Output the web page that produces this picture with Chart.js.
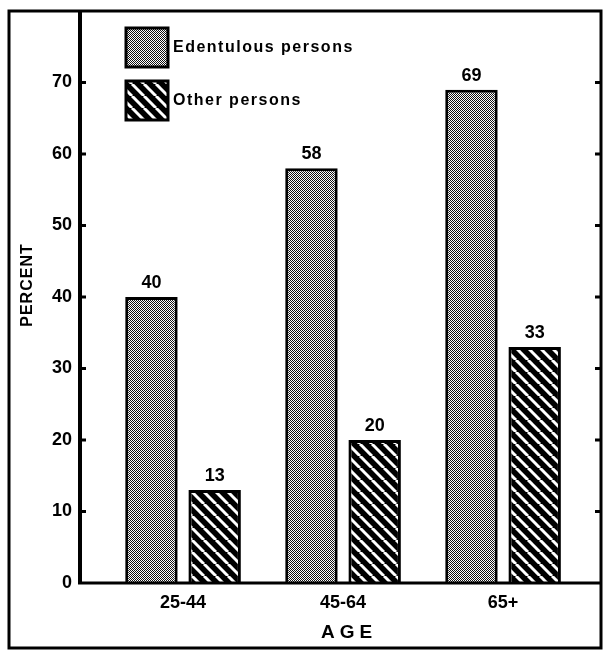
<!DOCTYPE html>
<html>
<head>
<meta charset="utf-8">
<script src="https://cdn.jsdelivr.net/npm/chart.js@4"></script>
<style>
html, body { margin: 0; padding: 0; background: #fff; }
canvas { display: block; }
</style>
</head>
<body>
<canvas id="myChart" width="604" height="655"></canvas>
<script>
// Chart data
const ageGroups = ["25-44", "45-64", "65+"];
const edentulous = [40, 58, 69];
const others = [13, 20, 33];
const seriesNames = ["Edentulous persons", "Other persons"];
const yTicks = [0, 10, 20, 30, 40, 50, 60, 70];
const yMax = 80;
const xTitle = "AGE";
const yTitle = "PERCENT";

const FONT = '"Liberation Sans", Arial, sans-serif';

// -----===== fill patterns =====-----
const makeStipple = () => {
  const c = document.createElement("canvas");
  c.width = 2; c.height = 2;
  const g = c.getContext("2d");
  g.fillStyle = "#fff";
  g.fillRect(0, 0, 2, 2);
  g.fillStyle = "#111";
  g.fillRect(0, 0, 1, 1);
  g.fillRect(1, 1, 1, 1);
  return g.createPattern(c, "repeat");
};
const makeHatch = () => {
  const c = document.createElement("canvas");
  c.width = 12; c.height = 12;
  const g = c.getContext("2d");
  g.fillStyle = "#000";
  g.fillRect(0, 0, 12, 12);
  g.strokeStyle = "#fff";
  g.lineWidth = 3;
  [-12, 0, 12].forEach((off) => {
    g.beginPath();
    g.moveTo(off, 0);
    g.lineTo(off + 12, 12);
    g.stroke();
  });
  return g.createPattern(c, "repeat");
};
const fills = [makeStipple(), makeHatch()];

// -----===== value labels over bars =====-----
const valueLabels = {
  id: "valueLabels",
  afterDatasetsDraw(chart) {
    const ctx = chart.ctx;
    ctx.save();
    ctx.fillStyle = "#000";
    ctx.font = "bold 18px " + FONT;
    ctx.textAlign = "center";
    ctx.textBaseline = "bottom";
    chart.data.datasets.forEach((ds, i) => {
      chart.getDatasetMeta(i).data.forEach((bar, j) => {
        ctx.fillText(String(ds.data[j].y), bar.x, bar.y - 5);
      });
    });
    ctx.restore();
  }
};

// -----===== frame, axes, inward ticks, titles, legend =====-----
const frame = {
  id: "frame",
  afterDraw(chart) {
    const { ctx, chartArea: a } = chart;
    const y = chart.scales.y;
    ctx.save();
    ctx.strokeStyle = "#000";
    ctx.lineWidth = 3;
    ctx.strokeRect(9, a.top, a.right - 9, 648 - a.top);
    ctx.lineWidth = 4;
    ctx.beginPath();
    ctx.moveTo(a.left, a.top);
    ctx.lineTo(a.left, a.bottom + 1);
    ctx.stroke();
    ctx.lineWidth = 3;
    ctx.beginPath();
    ctx.moveTo(a.left - 2, a.bottom);
    ctx.lineTo(a.right, a.bottom);
    ctx.stroke();
    yTicks.forEach((v) => {
      if (v === 0) return;
      const py = y.getPixelForValue(v);
      ctx.beginPath();
      ctx.moveTo(a.left, py);
      ctx.lineTo(a.left + 6, py);
      ctx.moveTo(a.right, py);
      ctx.lineTo(a.right - 6, py);
      ctx.stroke();
    });

    // axis titles
    ctx.fillStyle = "#000";
    ctx.textAlign = "center";
    ctx.textBaseline = "middle";
    ctx.font = "bold 19px " + FONT;
    ctx.letterSpacing = "5px";
    ctx.fillText(xTitle, 349, 633);
    ctx.save();
    ctx.translate(28, 285);
    ctx.rotate(-Math.PI / 2);
    ctx.font = "bold 16px " + FONT;
    ctx.letterSpacing = "1px";
    ctx.fillText(yTitle, 0, 0);
    ctx.restore();

    // legend
    ctx.letterSpacing = "1.5px";
    ctx.font = "bold 16px " + FONT;
    ctx.textAlign = "left";
    chart.data.datasets.forEach((ds, i) => {
      const top = 28 + i * 53;
      ctx.fillStyle = ds.backgroundColor;
      ctx.fillRect(126, top, 42, 39);
      ctx.lineWidth = 3;
      ctx.strokeRect(126, top, 42, 39);
      ctx.fillStyle = "#000";
      ctx.fillText(ds.label, 173, top + 20);
    });
    ctx.restore();
  }
};

const toPoints = (arr) => arr.map((v, i) => ({ x: i, y: v }));
const noPad = (scale) => {
  scale.paddingTop = 0;
  scale.paddingBottom = 0;
  scale.paddingLeft = 0;
  scale.paddingRight = 0;
};

const ctx = document.getElementById("myChart").getContext("2d");
const myChart = new Chart(ctx, {
  type: "bar",
  data: {
    datasets: [
      {
        label: seriesNames[0],
        data: toPoints(edentulous),
        backgroundColor: fills[0],
        borderColor: "#000",
        borderWidth: 3,
        borderSkipped: "bottom"
      },
      {
        label: seriesNames[1],
        data: toPoints(others),
        backgroundColor: fills[1],
        borderColor: "#000",
        borderWidth: 3,
        borderSkipped: "bottom"
      }
    ]
  },
  options: {
    responsive: false,
    animation: false,
    devicePixelRatio: 1,
    categoryPercentage: 0.79,
    barPercentage: 0.83,
    layout: { padding: { left: 0, top: 11, right: 3, bottom: 0 } },
    plugins: {
      legend: { display: false },
      tooltip: { enabled: false }
    },
    scales: {
      x: {
        type: "linear",
        offset: false,
        bounds: "data",
        min: -0.644,
        max: 2.612,
        grid: { display: false, drawTicks: false },
        border: { display: false },
        afterBuildTicks: (scale) => {
          scale.ticks = ageGroups.map((_, i) => ({ value: i }));
        },
        afterFit: (scale) => { scale.height = 72; noPad(scale); },
        ticks: {
          padding: 9,
          color: "#000",
          font: { family: FONT, size: 18, weight: "bold" },
          callback: (v) => ageGroups[v]
        }
      },
      y: {
        min: 0,
        max: yMax,
        grid: { display: false, drawTicks: false },
        border: { display: false },
        afterBuildTicks: (scale) => {
          scale.ticks = yTicks.map((v) => ({ value: v }));
        },
        afterFit: (scale) => { scale.width = 80; noPad(scale); },
        ticks: {
          padding: 8,
          color: "#000",
          font: { family: FONT, size: 18, weight: "bold" }
        }
      }
    }
  },
  plugins: [valueLabels, frame]
});
</script>
</body>
</html>
